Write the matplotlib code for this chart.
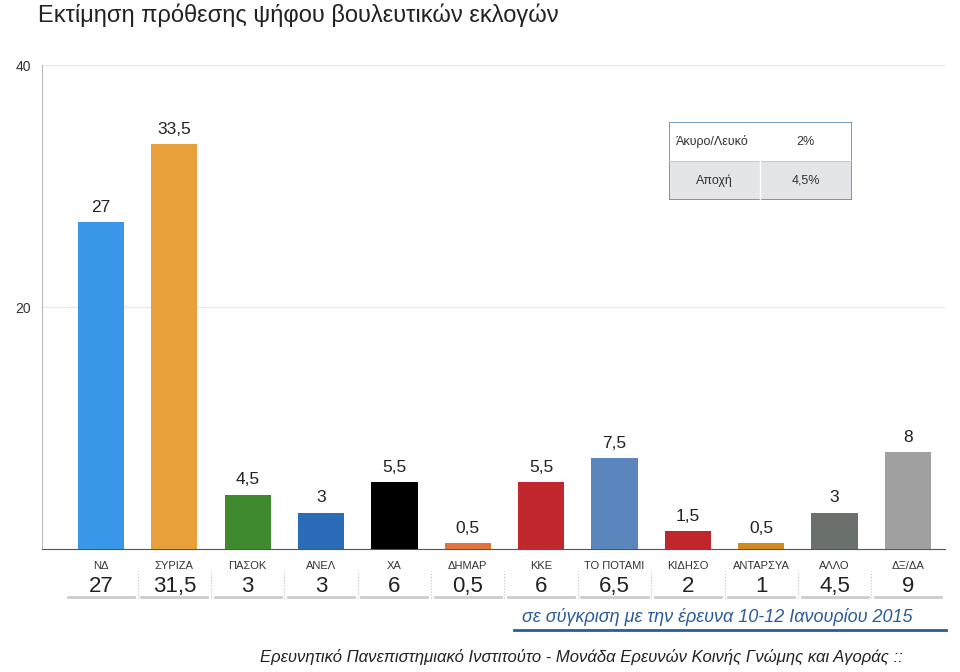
import matplotlib
matplotlib.use("Agg")
from matplotlib import pyplot as plt
from matplotlib.transforms import blended_transform_factory

parties = ["ΝΔ", "ΣΥΡΙΖΑ", "ΠΑΣΟΚ", "ΑΝΕΛ", "ΧΑ", "ΔΗΜΑΡ", "ΚΚΕ", "ΤΟ ΠΟΤΑΜΙ",
           "ΚΙΔΗΣΟ", "ΑΝΤΑΡΣΥΑ", "ΑΛΛΟ", "ΔΞ/ΔΑ"]
values = [27, 33.5, 4.5, 3, 5.5, 0.5, 5.5, 7.5, 1.5, 0.5, 3, 8]
previous = [27, 31.5, 3, 3, 6, 0.5, 6, 6.5, 2, 1, 4.5, 9]
colors = ["#3a96e8", "#e8a03a", "#3f8a2e", "#2a6cb8", "#000000", "#e0743c",
          "#c0282e", "#5b86bd", "#c0262c", "#d08a1e", "#6a716d", "#a0a0a0"]
table_rows = [("Άκυρο/Λευκό", "2%"), ("Αποχή", "4,5%")]

def fmt(v):
    return (f"{v:g}").replace(".", ",")

plt.rcParams["font.family"] = "Liberation Sans"
fig = plt.figure(figsize=(9.6, 6.72), dpi=100)
ax = fig.add_axes([0.044, 0.183, 0.94, 0.72])
x = list(range(len(parties)))
ax.bar(x, values, width=0.63, color=colors, zorder=3)
for xi, v in zip(x, values):
    ax.text(xi, v + 0.6, fmt(v), ha="center", va="bottom", fontsize=12.5, color="#222")
ax.set_xlim(-0.8, 11.5)
ax.set_ylim(0, 40)
ax.set_yticks([20, 40])
ax.set_yticklabels(["20", "40"], fontsize=10, color="#333")
ax.yaxis.grid(True, color="#e6e6e6", linewidth=0.8, zorder=0)
ax.tick_params(axis="y", length=0, pad=8)
ax.set_xticks([])
for s in ["top", "right"]:
    ax.spines[s].set_visible(False)
ax.spines["left"].set_color("#bbbbbb")
ax.spines["bottom"].set_color("#555555")

tr = blended_transform_factory(ax.transData, fig.transFigure)
for xi, p, pv in zip(x, parties, previous):
    ax.text(xi, 0.158, p, transform=tr, ha="center", va="center", fontsize=8, color="#333")
    ax.text(xi, 0.127, fmt(pv), transform=tr, ha="center", va="center", fontsize=16, color="#222")
    ax.plot([xi - 0.45, xi + 0.45], [0.111, 0.111], transform=tr, color="#cccccc",
            linewidth=2, clip_on=False)
    if xi > 0:
        ax.plot([xi - 0.5, xi - 0.5], [0.11, 0.15], transform=tr, color="#bbbbbb",
                linewidth=0.8, linestyle=":", clip_on=False)

fig.text(0.04, 0.977, "Εκτίμηση πρόθεσης ψήφου βουλευτικών εκλογών",
         fontsize=17, color="#222", va="center")
fig.text(0.95, 0.082, "σε σύγκριση με την έρευνα 10-12 Ιανουρίου 2015",
         fontsize=13, color="#2a5c9a", style="italic", ha="right", va="center")
fig.add_artist(plt.Line2D([0.535, 0.985], [0.062, 0.062], color="#2a5c9a", linewidth=2))
fig.text(0.94, 0.022, "Ερευνητικό Πανεπιστημιακό Ινστιτούτο - Μονάδα Ερευνών Κοινής Γνώμης και Αγοράς ::",
         fontsize=12, color="#222", style="italic", ha="right", va="center")

# side table
tab = fig.add_axes([0.697, 0.703, 0.19, 0.115])
tab.set_xlim(0, 1)
tab.set_ylim(0, 2)
tab.axis("off")
tab.add_patch(plt.Rectangle((0, 0), 1, 1, facecolor="#e3e5e8", edgecolor="none"))
tab.add_patch(plt.Rectangle((0, 0), 1, 2, facecolor="none", edgecolor="#5b8fb0", linewidth=1.2))
tab.plot([0, 1], [1, 1], color="#c8ccd0", linewidth=0.8)
tab.plot([0.5, 0.5], [0, 1], color="#ffffff", linewidth=1)
for i, (lab, val) in enumerate(table_rows):
    yy = 1.5 - i
    tab.text(0.25 if i else 0.04, yy, lab, ha="center" if i else "left", va="center",
             fontsize=9, color="#333")
    tab.text(0.75, yy, val, ha="center", va="center", fontsize=9, color="#333")

fig.savefig("out.png", dpi=100)
